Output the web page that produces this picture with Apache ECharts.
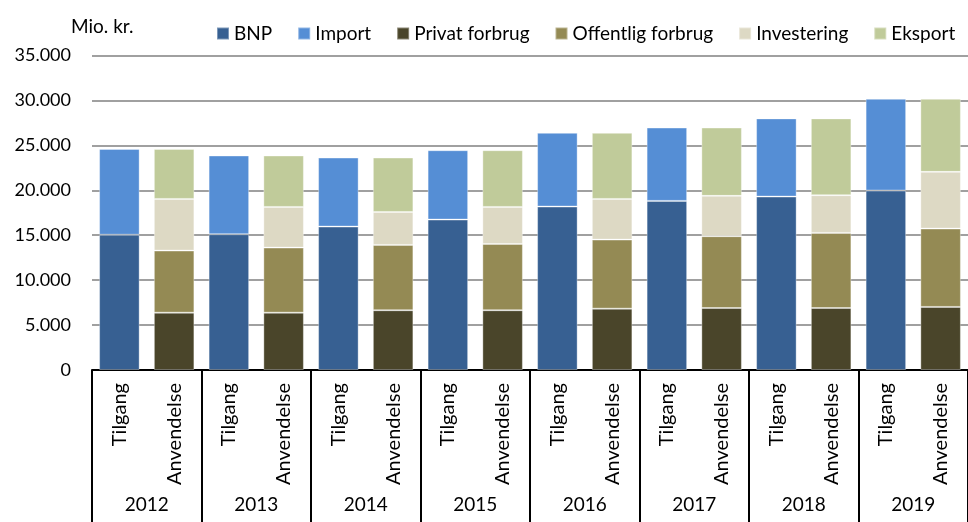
<!DOCTYPE html>
<html>
<head>
<meta charset="utf-8">
<script src="https://cdn.jsdelivr.net/npm/echarts@6/dist/echarts.min.js"></script>
<style>
html,body{margin:0;padding:0;background:#fff;}
#c{width:968px;height:522px;}
</style>
</head>
<body>
<div id="c"></div>
<script>
var years = ['2012','2013','2014','2015','2016','2017','2018','2019'];
var subLabels = ['Tilgang','Anvendelse'];
// Tilgang
var bnp = [15050, 15110, 15960, 16740, 18190, 18820, 19300, 19970];
var importV = [9550, 8760, 7680, 7720, 8200, 8160, 8700, 10210];
// Anvendelse
var privat = [6380, 6380, 6650, 6650, 6830, 6900, 6900, 7020];
var offentlig = [6910, 7240, 7270, 7380, 7680, 7990, 8360, 8720];
var investering = [5750, 4530, 3670, 4120, 4530, 4490, 4190, 6310];
var eksport = [5560, 5720, 6050, 6310, 7350, 7600, 8550, 8130];
var yTicks = [0, 5000, 10000, 15000, 20000, 25000, 30000, 35000];

var FONT = 'Lato';
var cats = [];
years.forEach(function(){ cats.push(subLabels[0], subLabels[1]); });
function spread(arr, slot){
  var out = [];
  arr.forEach(function(v){
    if (slot === 0) { out.push(v, '-'); } else { out.push('-', v); }
  });
  return out;
}
function fmt(v){ return String(v).replace(/\B(?=(\d{3})+(?!\d))/g, '.'); }

var defs = [
  ['BNP', bnp, 0, '#376092'],
  ['Import', importV, 0, '#558ED5'],
  ['Privat forbrug', privat, 1, '#4A452A'],
  ['Offentlig forbrug', offentlig, 1, '#948A54'],
  ['Investering', investering, 1, '#DDD9C4'],
  ['Eksport', eksport, 1, '#C0CB9A']
];
var series = defs.map(function(d){
  return {
    name: d[0], type: 'bar', stack: 'total', xAxisIndex: 0,
    barWidth: '74%',
    data: spread(d[1], d[2]),
    itemStyle: { color: d[3], borderColor: 'rgba(255,255,255,0.35)', borderWidth: 1 },
    emphasis: { disabled: true }
  };
});

var chart = echarts.init(document.getElementById('c'), null, {renderer: 'canvas'});
chart.setOption({
  animation: false,
  title: { text: 'Mio. kr.', left: 66, top: 12, textStyle: { fontFamily: FONT, fontSize: 19, fontWeight: 'normal', color: '#000' } },
  legend: {
    left: 211, top: 19, width: 900, itemWidth: 12, itemGap: 25, itemHeight: 12, icon: 'rect',
    textStyle: { fontFamily: FONT, fontSize: 19, color: '#000' },
    data: defs.map(function(d){ return d[0]; })
  },
  grid: { left: 92, right: -10, top: 55.5, bottom: 152, containLabel: false },
  xAxis: [
    {
      type: 'category', data: cats, position: 'bottom',
      axisLine: { show: true, lineStyle: { color: '#000', width: 2 } },
      axisTick: { show: false },
      axisLabel: { interval: 0, rotate: 90, margin: 13, fontFamily: FONT, fontSize: 20, color: '#000' }
    },
    {
      type: 'category', data: years, position: 'bottom',
      axisLine: { show: false },
      axisTick: { show: true, length: 160, lineStyle: { color: '#000', width: 2 } },
      axisLabel: { interval: 0, margin: 125, fontFamily: FONT, fontSize: 19, color: '#000' }
    }
  ],
  yAxis: {
    type: 'value', min: yTicks[0], max: yTicks[yTicks.length-1], interval: yTicks[1]-yTicks[0],
    axisLine: { show: false }, axisTick: { show: false },
    axisLabel: { margin: 21, fontFamily: FONT, fontSize: 18, color: '#000', formatter: fmt },
    splitLine: { lineStyle: { color: '#A0A0A0', width: 2 } }
  },
  series: series
});
</script>
</body>
</html>
